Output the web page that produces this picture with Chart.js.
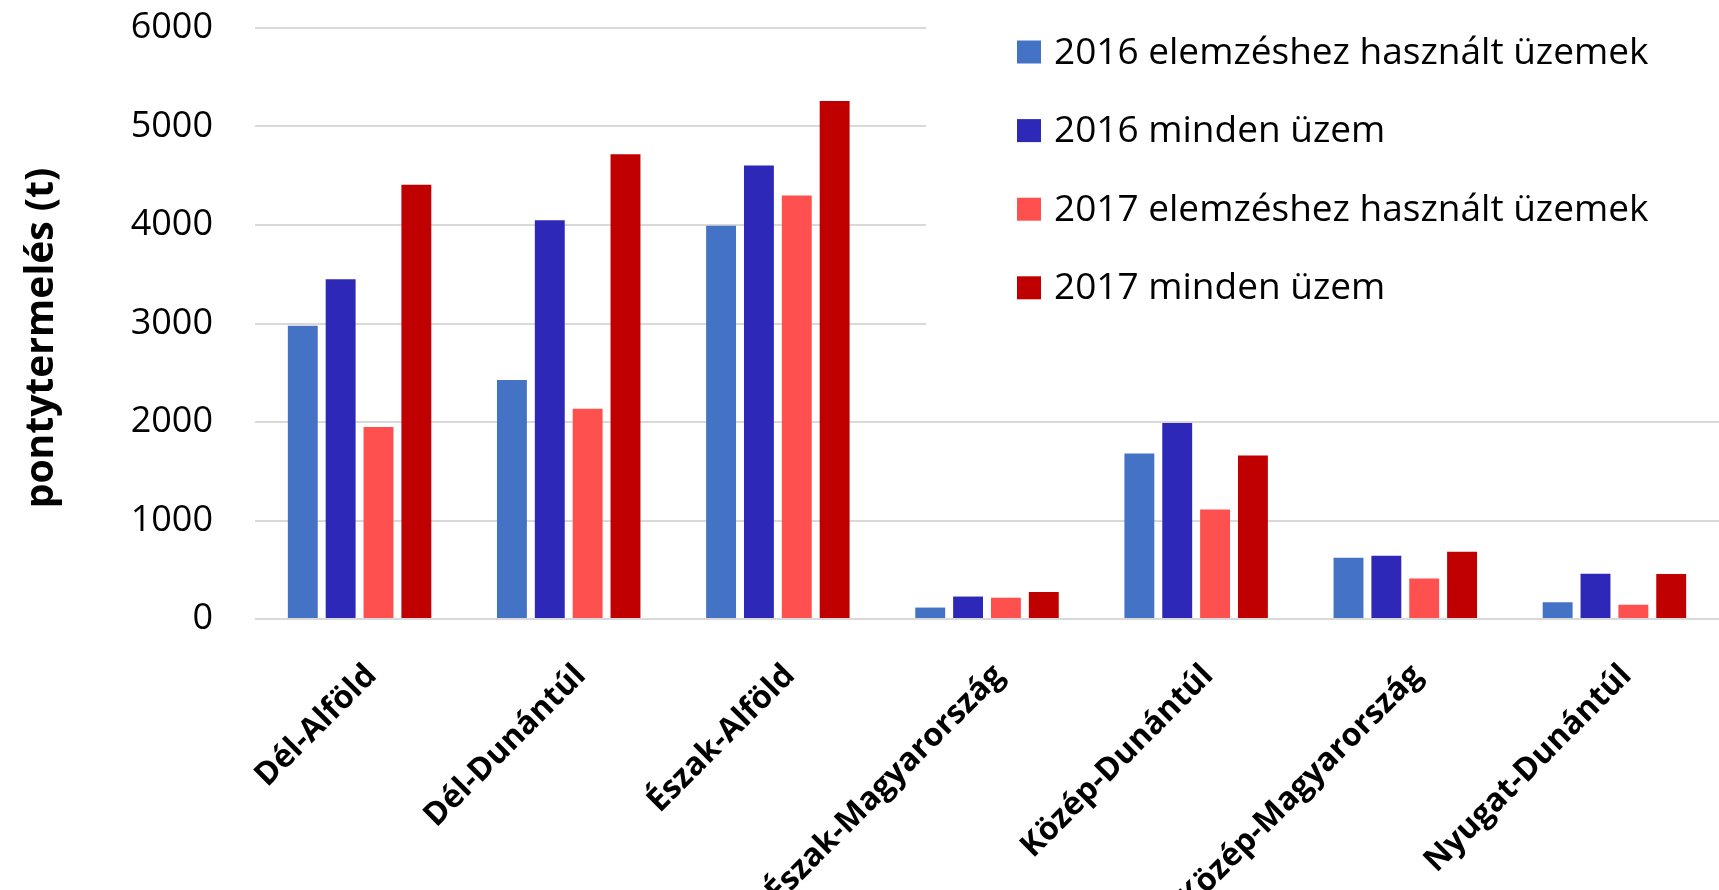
<!DOCTYPE html>
<html>
<head>
<meta charset="utf-8">
<script src="https://cdn.jsdelivr.net/npm/chart.js@4"></script>
<style>
  html, body { margin: 0; padding: 0; background: #fff; overflow: hidden; }
  #wrap { position: relative; width: 1719px; height: 890px; }
</style>
</head>
<body>
<div id="wrap"><canvas id="chart"></canvas></div>
<script>
// --- Data ---
const categories = ['Dél-Alföld', 'Dél-Dunántúl', 'Észak-Alföld', 'Észak-Magyarország', 'Közép-Dunántúl', 'Közép-Magyarország', 'Nyugat-Dunántúl'];
const seriesLabels = ['2016 elemzéshez használt üzemek', '2016 minden üzem', '2017 elemzéshez használt üzemek', '2017 minden üzem'];
const used2016 = [2977, 2426, 3993, 116, 1679, 622, 170];
const all2016 = [3450, 4047, 4603, 228, 1990, 643, 460];
const used2017 = [1949, 2135, 4300, 216, 1111, 410, 145];
const all2017 = [4408, 4719, 5258, 274, 1659, 684, 456];
const yMin = 0;
const yMax = 6000;
const yStep = 1000;
const yTitle = 'pontytermelés (t)';

const colors = ['#4472C4', '#2E28B8', '#FF5050', '#C00000'];
const FONT = "'Open Sans', 'Noto Sans', sans-serif";

// legend sits inside the plot, on a white box that hides the grid lines
const insideLegend = {
  id: 'insideLegend',
  afterDatasetsDraw(chart) {
    const ctx = chart.ctx;
    ctx.save();
    ctx.fillStyle = '#fff';
    ctx.fillRect(926, 0, chart.width - 926, 335);
    ctx.font = '37px ' + FONT;
    ctx.textBaseline = 'middle';
    chart.data.datasets.forEach((ds, i) => {
      const cy = 52 + i * 78.6;
      ctx.fillStyle = ds.backgroundColor;
      ctx.fillRect(1017, cy - 11.5, 24, 23);
      ctx.fillStyle = '#000';
      ctx.fillText(ds.label, 1054, cy + 1);
    });
    ctx.restore();
  }
};

// y axis title, a bit below the plot centre as in the original
const axisTitle = {
  id: 'axisTitle',
  afterDraw(chart) {
    const ctx = chart.ctx;
    ctx.save();
    ctx.translate(42, 338);
    ctx.rotate(-Math.PI / 2);
    ctx.font = 'bold 39px ' + FONT;
    ctx.fillStyle = '#000';
    ctx.textAlign = 'center';
    ctx.textBaseline = 'middle';
    ctx.fillText(yTitle, 0, 0);
    ctx.restore();
  }
};

const datasets = [used2016, all2016, used2017, all2017].map((values, i) => ({
  label: seriesLabels[i],
  data: values,
  backgroundColor: colors[i],
  borderWidth: 0,
  categoryPercentage: 0.724,
  barPercentage: 0.79
}));

new Chart(document.getElementById('chart'), {
  type: 'bar',
  data: { labels: categories, datasets: datasets },
  plugins: [insideLegend, axisTitle],
  options: {
    responsive: true,
    maintainAspectRatio: false,
    animation: false,
    // the original plot runs a little past the right edge of the picture
    layout: { padding: { top: 28, right: -6, left: 0, bottom: 0 } },
    plugins: {
      legend: { display: false },
      tooltip: { enabled: false }
    },
    scales: {
      x: {
        grid: { display: false },
        border: { display: false },
        ticks: {
          color: '#000',
          font: { family: FONT, size: 32, weight: 'bold' },
          minRotation: 45,
          maxRotation: 45,
          autoSkip: false,
          padding: 30,
          labelOffset: 12
        },
        afterFit: scale => { scale.height = 271; }
      },
      y: {
        min: yMin,
        max: yMax,
        grid: { color: '#d9d9d9', lineWidth: 2, drawTicks: false },
        border: { display: false },
        ticks: {
          stepSize: yStep,
          color: '#000',
          font: { family: FONT, size: 36 },
          padding: 42,
          callback: v => String(v)
        },
        afterFit: scale => {
          scale.width = 255;
          scale.paddingTop = 0;
          scale.paddingBottom = 0;
        }
      }
    }
  }
});
</script>
</body>
</html>
